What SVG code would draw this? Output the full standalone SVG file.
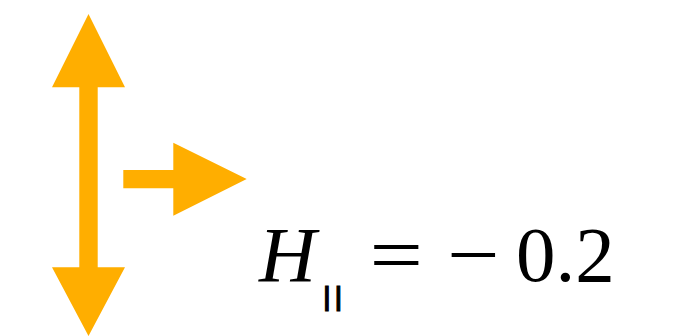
<svg xmlns="http://www.w3.org/2000/svg" width="681" height="336" viewBox="0 0 681 336">
<style>
.arr{fill:#FFAE00}
.m{font-family:"Liberation Serif","Times New Roman",serif;fill:#000;font-size:79px}
.bar{font-family:"DejaVu Sans",sans-serif;font-weight:bold;font-size:24px;fill:#000;stroke:#000;stroke-width:1.2px}
</style>
<rect width="681" height="336" fill="#fff"/>
<g id="vertical-arrow">
<polygon class="arr" points="88.5,14 125,87.3 97.7,87.3 97.7,267.3 125,267.3 88.5,336 52,267.3 79.3,267.3 79.3,87.3 52,87.3"/>
</g>
<g id="horizontal-arrow">
<polygon class="arr" points="123.3,170 173.3,170 173.3,142.7 246.7,179 173.3,215.7 173.3,188.3 123.3,188.3"/>
</g>
<g id="label">
<text class="m" x="259" y="281" font-style="italic">H</text>
<text class="bar" y="305"><tspan x="322.6">|</tspan><tspan x="334">|</tspan></text>
<text class="m" x="369.5" y="281" textLength="53.5" lengthAdjust="spacingAndGlyphs">=</text>
<text class="m" x="447" y="281" textLength="52.6" lengthAdjust="spacingAndGlyphs">−</text>
<text class="m" x="516" y="281">0.2</text>
</g>
</svg>
